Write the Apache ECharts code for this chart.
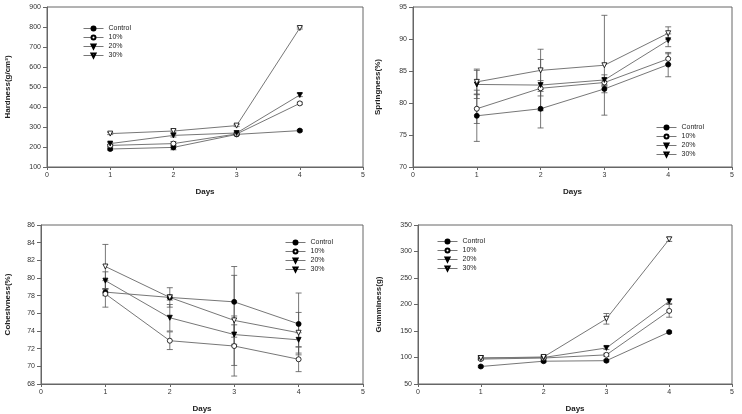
<!DOCTYPE html>
<html>
<head>
<meta charset="utf-8">
<script src="https://cdn.jsdelivr.net/npm/echarts@6/dist/echarts.min.js"></script>
<style>
	html, body { margin: 0; padding: 0; background: #fff; }
	#chart { width: 742px; height: 414px; }
</style>
</head>
<body>
<div id="chart"></div>
<script>
const days = [1, 2, 3, 4];
const groups = ['Control', '10%', '20%', '30%'];

// Hardness (g/cm3)
const hardControl = [190, 198, 263, 282];
const hard10 = [208, 217, 265, 418];
const hard20 = [217, 258, 270, 460];
const hard30 = [267, 280, 307, 795];
const hardErrControl = [6, 12, 5, 5];
const hardErr10 = [5, 10, 5, 6];
const hardErr20 = [6, 8, 5, 8];
const hardErr30 = [5, 6, 5, 5];

// Springness (%)
const springControl = [78.0, 79.1, 82.2, 86.0];
const spring10 = [79.1, 82.3, 83.2, 86.9];
const spring20 = [82.9, 82.8, 83.6, 89.8];
const spring30 = [83.3, 85.1, 85.9, 90.9];
const springErrControl = [4.0, 3.0, 0.6, 1.9];
const springErr10 = [2.3, 1.2, 0.6, 0.8];
const springErr20 = [2.2, 4.0, 0.8, 1.0];
const springErr30 = [2.0, 3.3, 7.8, 1.0];

// Cohesivness (%)
const cohControl = [78.4, 77.8, 77.3, 74.8];
const coh10 = [78.2, 72.9, 72.3, 70.8];
const coh20 = [79.7, 75.5, 73.6, 73.0];
const coh30 = [81.3, 77.8, 75.2, 73.8];
const cohErrControl = [0.4, 0.3, 4.0, 3.5];
const cohErr10 = [1.5, 1.0, 3.4, 1.4];
const cohErr20 = [1.0, 1.5, 1.1, 0.8];
const cohErr30 = [2.5, 1.1, 5.1, 2.3];

// Gumminess (g)
const gumControl = [83, 93, 94, 148];
const gum10 = [97, 99, 105, 188];
const gum20 = [99, 100, 118, 206];
const gum30 = [99, 101, 173, 323];
const gumErrControl = [2, 2, 2, 2];
const gumErr10 = [2, 2, 3, 12];
const gumErr20 = [2, 2, 3, 4];
const gumErr30 = [2, 2, 10, 4];

const xTicks = [0, 1, 2, 3, 4, 5];

const panels = [
	{
		name: 'Hardness(g/cm³)', min: 100, max: 900, interval: 100, nameGap: 35,
		grid: { left: 47, right: 379, top: 7, height: 160 },
		legend: { left: 83, top: 25 },
		values: [hardControl, hard10, hard20, hard30],
		errors: [hardErrControl, hardErr10, hardErr20, hardErr30]
	},
	{
		name: 'Springness(%)', min: 70, max: 95, interval: 5, nameGap: 31,
		grid: { left: 413, right: 10, top: 7, height: 160 },
		legend: { left: 656, top: 124 },
		values: [springControl, spring10, spring20, spring30],
		errors: [springErrControl, springErr10, springErr20, springErr30]
	},
	{
		name: 'Cohesivness(%)', min: 68, max: 86, interval: 2, nameGap: 29,
		grid: { left: 41, right: 379, top: 225, height: 160 },
		legend: { left: 285, top: 239 },
		values: [cohControl, coh10, coh20, coh30],
		errors: [cohErrControl, cohErr10, cohErr20, cohErr30]
	},
	{
		name: 'Gumminess(g)', min: 50, max: 350, interval: 50, nameGap: 35,
		grid: { left: 418, right: 10, top: 225, height: 160 },
		legend: { left: 437, top: 238 },
		values: [gumControl, gum10, gum20, gum30],
		errors: [gumErrControl, gumErr10, gumErr20, gumErr30]
	}
];

// marker style per group: filled circle, open circle, filled down triangle, open down triangle
const markers = [
	{ symbol: 'circle', rotate: 0, fill: '#000' },
	{ symbol: 'circle', rotate: 0, fill: '#fff' },
	{ symbol: 'triangle', rotate: 180, fill: '#000' },
	{ symbol: 'triangle', rotate: 180, fill: '#fff' }
];

const labelFont = { fontFamily: 'Liberation Sans, Arial, sans-serif', fontSize: 7, color: '#333' };

function errorBar(params, api) {
	const x = api.value(0);
	const top = api.coord([x, api.value(2)]);
	const bot = api.coord([x, api.value(1)]);
	const style = { stroke: '#555', lineWidth: 0.8 };
	return {
		type: 'group',
		children: [
			{ type: 'line', shape: { x1: top[0], y1: top[1], x2: bot[0], y2: bot[1] }, style: style },
			{ type: 'line', shape: { x1: top[0] - 3, y1: top[1], x2: top[0] + 3, y2: top[1] }, style: style },
			{ type: 'line', shape: { x1: bot[0] - 3, y1: bot[1], x2: bot[0] + 3, y2: bot[1] }, style: style }
		]
	};
}

const option = {
	animation: false,
	backgroundColor: '#fff',
	grid: [],
	xAxis: [],
	yAxis: [],
	legend: [],
	series: []
};

panels.forEach((p, i) => {
	option.grid.push(Object.assign({ show: true, borderColor: '#666', borderWidth: 1, backgroundColor: 'transparent' }, p.grid));
	option.xAxis.push({
		type: 'value', gridIndex: i, min: xTicks[0], max: xTicks[xTicks.length - 1], interval: 1,
		name: 'Days', nameLocation: 'middle', nameGap: 21,
		nameTextStyle: { fontFamily: 'Liberation Sans, Arial, sans-serif', fontSize: 8, fontWeight: 'bold', color: '#222' },
		axisLine: { lineStyle: { color: '#666', width: 1 } },
		axisTick: { inside: false, length: 3, lineStyle: { color: '#666' } },
		axisLabel: Object.assign({ margin: 5 }, labelFont),
		splitLine: { show: false }
	});
	option.yAxis.push({
		type: 'value', gridIndex: i, min: p.min, max: p.max, interval: p.interval,
		name: p.name, nameLocation: 'middle', nameGap: p.nameGap, nameRotate: 90,
		nameTextStyle: { fontFamily: 'Liberation Sans, Arial, sans-serif', fontSize: 8, fontWeight: 'bold', color: '#222' },
		axisLine: { lineStyle: { color: '#666', width: 1 } },
		axisTick: { inside: false, length: 4, lineStyle: { color: '#666' } },
		axisLabel: Object.assign({ margin: 6 }, labelFont),
		splitLine: { show: false }
	});
	option.legend.push({
		data: groups, orient: 'vertical', left: p.legend.left, top: p.legend.top, padding: 0,
		itemWidth: 20, itemHeight: 5, itemGap: 2, selectedMode: false,
		lineStyle: { color: '#777', width: 1 },
		textStyle: { fontFamily: 'Liberation Sans, Arial, sans-serif', fontSize: 7, color: '#222', lineHeight: 6 }
	});
	groups.forEach((g, k) => {
		option.series.push({
			type: 'custom', xAxisIndex: i, yAxisIndex: i, name: g + ' err', z: 1,
			renderItem: errorBar, silent: true,
			data: days.map((d, j) => [d, p.values[k][j] - p.errors[k][j], p.values[k][j] + p.errors[k][j]])
		});
	});
	groups.forEach((g, k) => {
		option.series.push({
			type: 'line', name: g, xAxisIndex: i, yAxisIndex: i, z: 3,
			symbol: markers[k].symbol, symbolRotate: markers[k].rotate, symbolSize: 5,
			lineStyle: { color: '#777', width: 1 },
			itemStyle: { color: markers[k].fill, borderColor: '#000', borderWidth: 0.8 },
			data: days.map((d, j) => [d, p.values[k][j]])
		});
	});
});

const chart = echarts.init(document.getElementById('chart'), null, { renderer: 'canvas' });
chart.setOption(option);
</script>
</body>
</html>
